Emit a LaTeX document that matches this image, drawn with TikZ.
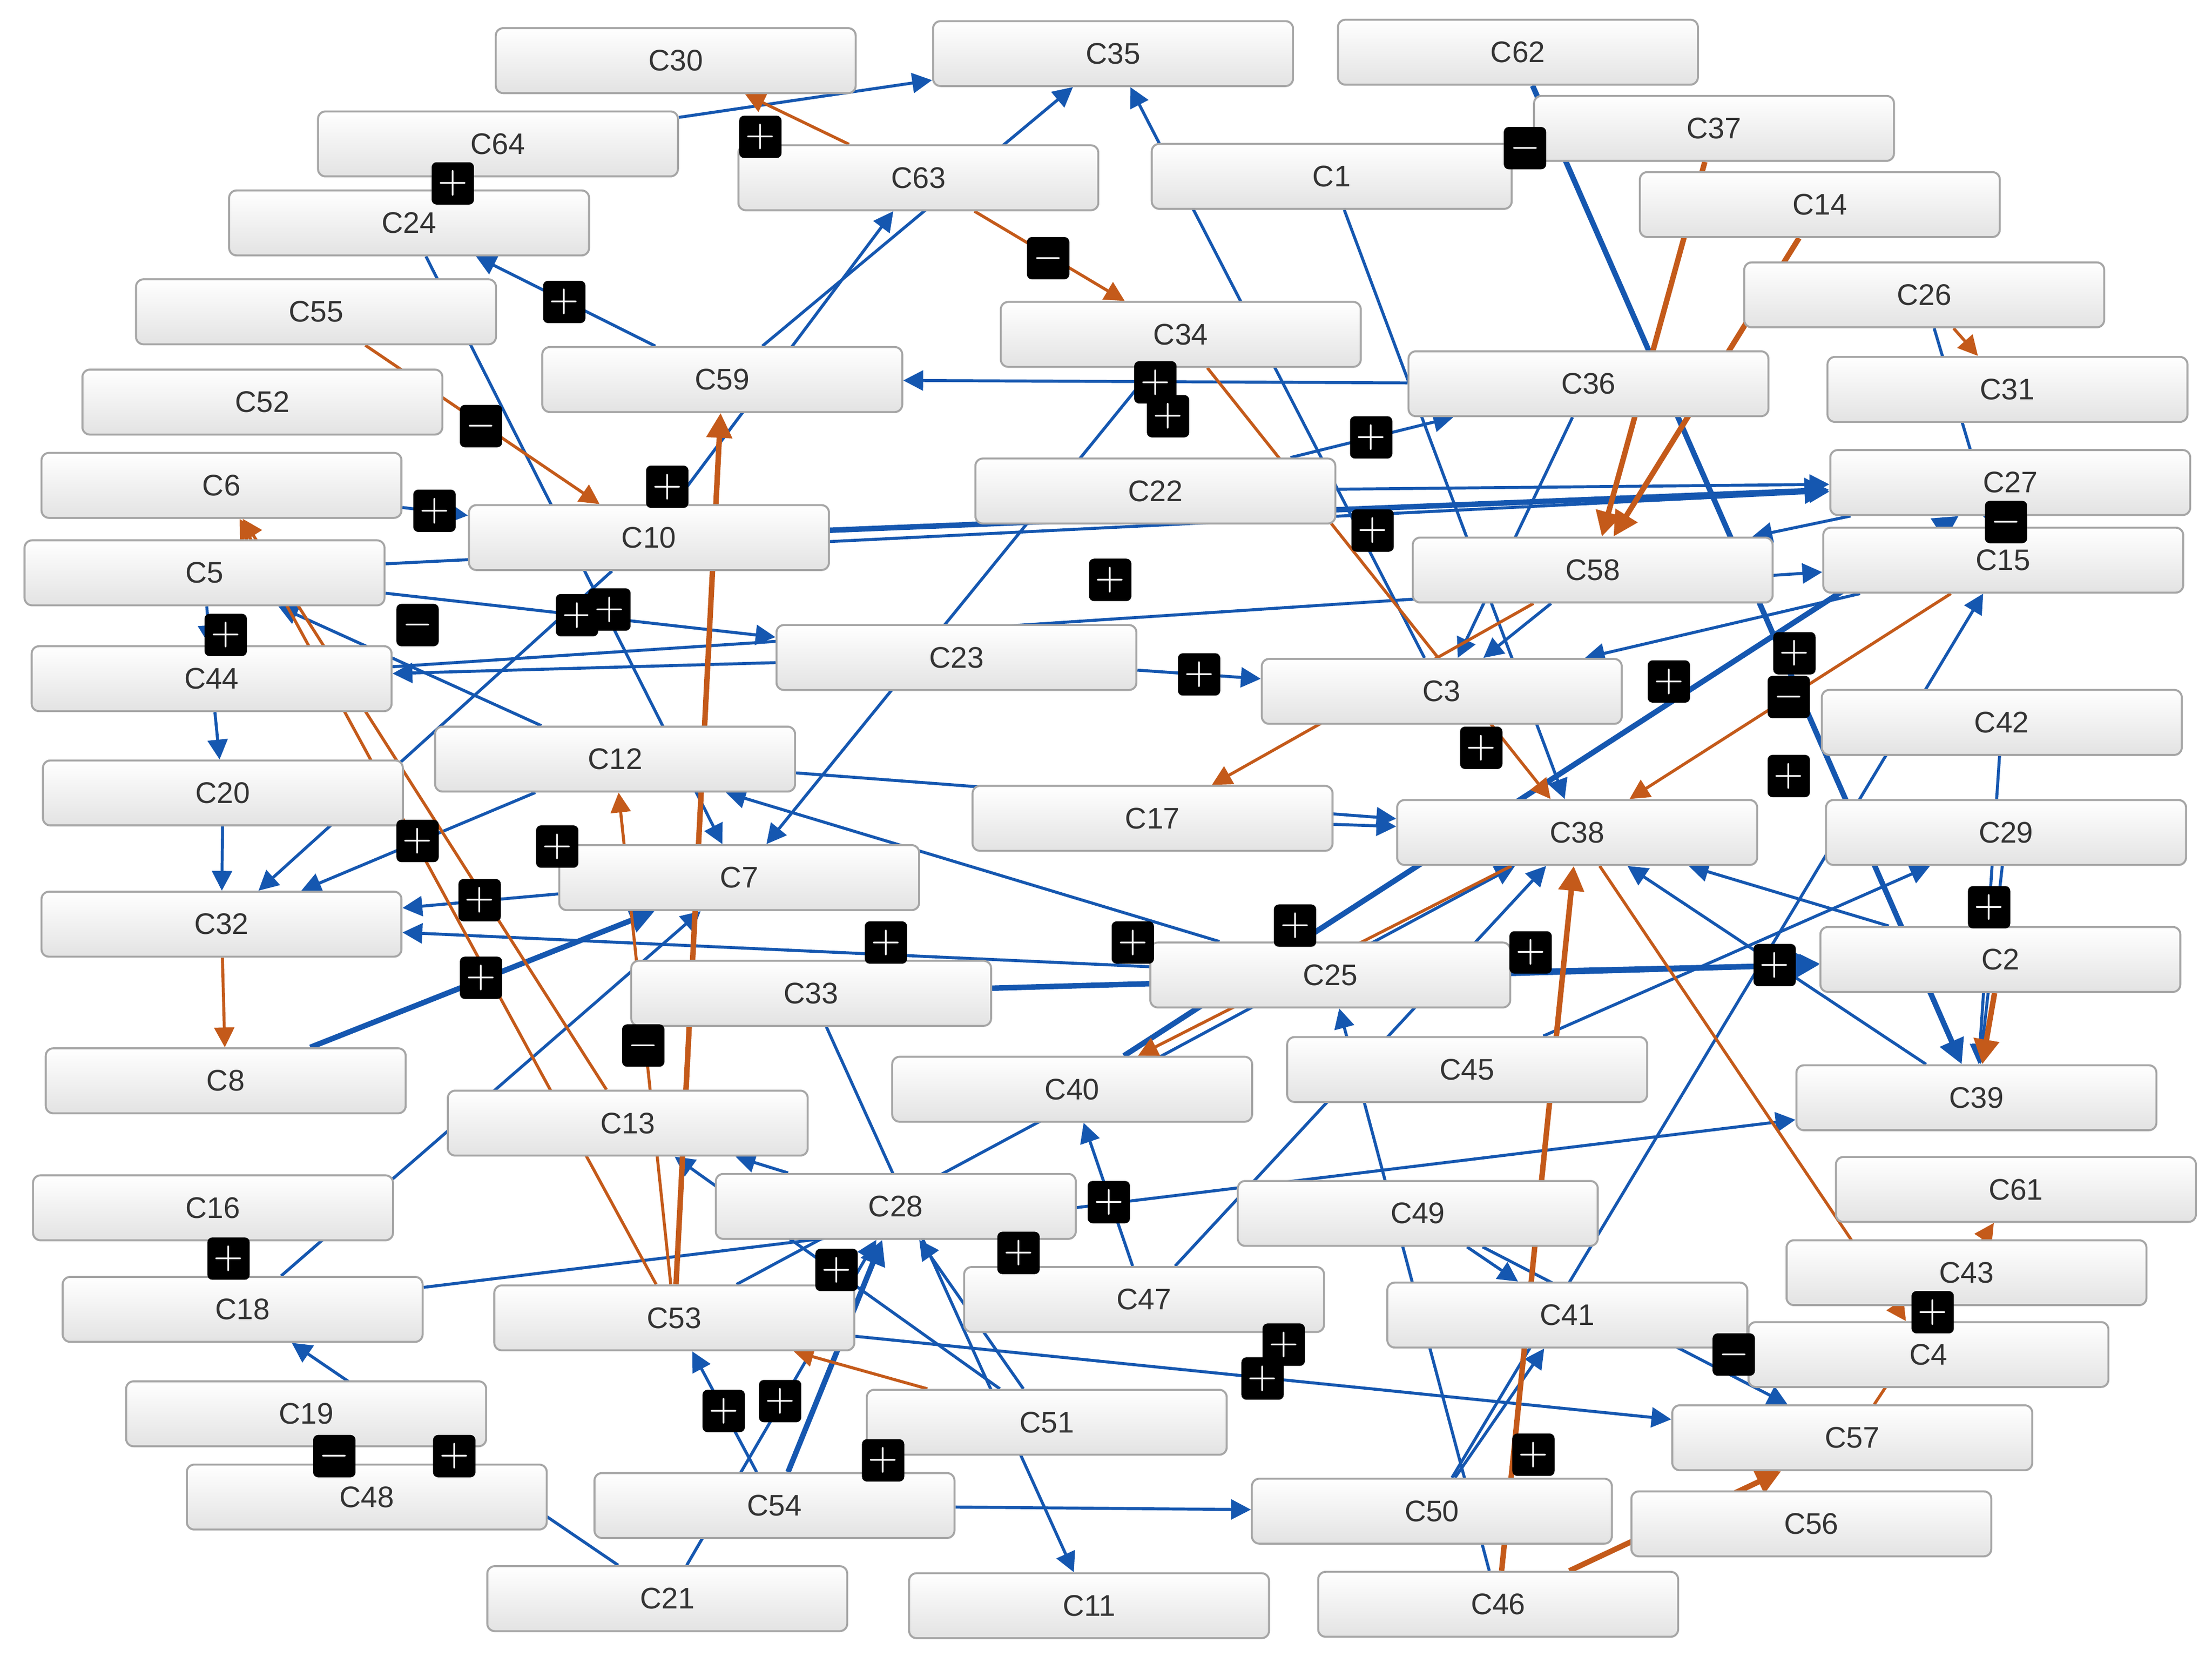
\documentclass[tikz,border=0pt]{standalone}
\usepackage{fontspec}
\setmainfont{Liberation Sans}
\usetikzlibrary{shadings,arrows.meta}
\pgfdeclarelayer{bg}\pgfsetlayers{bg,main}
\definecolor{eb}{RGB}{21,87,176}
\definecolor{eo}{RGB}{196,90,26}
\begin{document}
\begin{tikzpicture}[x=0.01cm,y=-0.01cm,
 box/.style={rectangle,rounded corners=1.5pt,draw=gray!70,top color=white,bottom color=gray!22,minimum width=2.55cm,minimum height=0.46cm,font=\fontsize{6}{7}\selectfont,text=black!80},
 mk/.style={rectangle,rounded corners=1pt,fill=black,text=white,minimum size=0.3cm,inner sep=0pt,font=\bfseries\fontsize{7}{7}\selectfont},
 b/.style={draw=eb,line width=0.6pt,-{Triangle[length=4pt,width=4pt]}},
 bt/.style={draw=eb,line width=1.1pt,-{Triangle[length=5pt,width=5pt]}},
 o/.style={draw=eo,line width=0.6pt,-{Triangle[length=4pt,width=4pt]}},
 ot/.style={draw=eo,line width=1.1pt,-{Triangle[length=5pt,width=5pt]}}]
\useasboundingbox (0,0) rectangle (1568,1174);
\foreach \n/\x/\y in {C30/479/43,C35/789/38,C62/1076/37,C64/353/102,C37/1215/91,C63/651/126,C1/944/125,C14/1290/145,C24/290/158,C26/1364/209,C55/224/221,C34/837/237,C59/512/269,C36/1126/272,C52/186/285,C31/1423/276,C6/157/344,C22/819/348,C27/1425/342,C10/460/381,C58/1129/404,C5/145/406,C15/1420/397,C23/678/466,C44/150/481,C3/1022/490,C42/1419/512,C12/436/538,C20/158/562,C17/817/580,C38/1118/590,C29/1422/590,C7/524/622,C32/157/655,C2/1418/680,C25/943/691,C33/575/704,C45/1040/758,C8/160/766,C40/760/772,C39/1401/778,C13/445/796,C61/1429/843,C16/151/856,C28/635/855,C49/1005/860,C43/1394/902,C18/172/928,C47/811/921,C41/1111/932,C53/478/934,C4/1367/960,C19/217/1002,C51/742/1008,C57/1313/1019,C48/260/1061,C54/549/1067,C50/1015/1071,C56/1284/1080,C21/473/1133,C11/772/1138,C46/1062/1137}
  \node[box] (\n) at (\x,\y) {\n};
\begin{pgfonlayer}{bg}
\foreach \a/\c in {C64/C35,C59/C35,C59/C24,C36/C59,C3/C35,C26/C15,C22/C27,C22/C36,C5/C27,C44/C15,C6/C10,C5/C23,C5/C44,C44/C20,C20/C32,C10/C32,C12/C32,C7/C32,C25/C32,C54/C53,C21/C18,C18/C39,C18/C7,C28/C13,C51/C28,C49/C41,C47/C40,C50/C41,C4/C41,C53/C57,C2/C38,C29/C39,C42/C39,C17/C38,C12/C38,C23/C3,C25/C12,C25/C2,C45/C29,C39/C38,C36/C3,C1/C38,C10/C63,C34/C7,C50/C15,C54/C50,C21/C28,C47/C38,C49/C57,C51/C13,C53/C38,C24/C7,C16/C18,C33/C11,C46/C25,C12/C5,C58/C3,C23/C44,C27/C58,C15/C3}
  \draw[b] (\a) -- (\c);
\foreach \a/\c in {C10/C27,C62/C39,C8/C7,C33/C2,C40/C27,C54/C28}
  \draw[bt] (\a) -- (\c);
\foreach \a/\c in {C63/C34,C63/C30,C26/C31,C55/C10,C53/C6,C51/C53,C38/C40,C15/C38,C34/C38,C57/C61,C38/C4,C13/C6,C53/C12,C32/C8,C58/C17}
  \draw[o] (\a) -- (\c);
\foreach \a/\c in {C37/C58,C14/C58,C53/C59,C46/C38,C46/C57,C2/C39}
  \draw[ot] (\a) -- (\c);
\end{pgfonlayer}
\foreach \i/\x/\y/\s in {1/539/97/+,2/743/183/-,3/400/214/+,4/341/302/-,5/308/362/+,6/473/345/+,7/409/436/+,8/432/432/+,9/296/443/-,10/787/411/+,11/819/271/+,12/828/295/+,13/972/310/+,14/973/376/+,15/1183/483/+,16/1272/463/+,17/1268/494/-,18/1268/550/+,19/850/478/+,20/1050/530/+,21/296/596/+,22/395/600/+,23/340/638/+,24/628/668/+,25/918/656/+,26/803/668/+,27/1085/675/+,28/1258/684/+,29/1410/643/+,30/341/693/+,31/456/741/-,32/786/852/+,33/162/892/+,34/722/888/+,35/593/900/+,36/910/953/+,37/895/977/+,38/513/1000/+,39/553/993/+,40/1087/1031/+,41/1229/960/-,42/237/1032/-,43/322/1032/+,44/626/1035/+,45/1370/930/+,46/160/450/+,47/1422/370/-,48/321/130/+,49/1081/105/-}
  \node[mk] (m\i) at (\x,\y) {$\s$};
\end{tikzpicture}
\end{document}
